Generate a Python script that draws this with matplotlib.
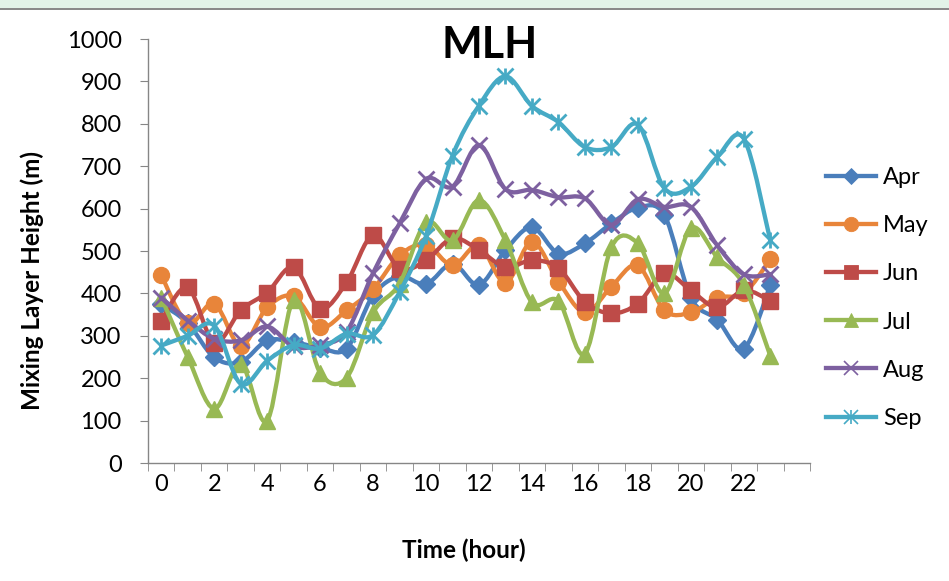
import matplotlib
matplotlib.use("Agg")
import matplotlib.pyplot as plt
from matplotlib.path import Path
from matplotlib.patches import PathPatch, Rectangle
from matplotlib.lines import Line2D
import numpy as np

hours = list(range(24))
xtick_labels = [str(h) for h in range(0, 23, 2)]
months = ["Apr", "May", "Jun", "Jul", "Aug", "Sep"]

apr = [375, 330, 249, 238, 289, 285, 272, 270, 395, 440, 422, 470, 420, 502, 556, 494, 518, 565, 602, 585, 390, 338, 270, 419]
may = [443, 330, 376, 277, 367, 393, 320, 360, 410, 490, 515, 466, 513, 425, 522, 428, 355, 416, 466, 360, 355, 390, 400, 480]
jun = [336, 414, 284, 360, 402, 462, 364, 426, 537, 458, 478, 530, 502, 462, 478, 460, 380, 353, 376, 447, 407, 367, 407, 383]
jul = [390, 250, 128, 234, 100, 385, 213, 201, 355, 423, 568, 525, 620, 525, 379, 382, 258, 509, 518, 400, 554, 485, 420, 253]
aug = [390, 336, 293, 289, 322, 275, 278, 310, 448, 565, 670, 652, 750, 646, 644, 627, 624, 562, 622, 604, 604, 513, 445, 445]
sep = [277, 300, 324, 187, 241, 278, 270, 305, 302, 403, 535, 725, 843, 912, 842, 804, 745, 745, 798, 648, 651, 722, 765, 525]

series = [apr, may, jun, jul, aug, sep]
colors = ["#4A7EBB", "#E8853A", "#BE4B48", "#98B954", "#7D60A0", "#46AAC5"]

plt.rcParams['font.family'] = ['Lato', 'DejaVu Sans']

fig = plt.figure(figsize=(9.49, 5.81), dpi=100)
fig.patches.append(Rectangle((0, 1 - 8/581), 1, 8/581, transform=fig.transFigure,
                             facecolor="#E2F3E8", edgecolor="none", zorder=0))
fig.patches.append(Rectangle((0, 1 - 10/581), 1, 2.5/581, transform=fig.transFigure,
                             facecolor="#8A8A8A", edgecolor="none", zorder=0))

ax = fig.add_axes([148/949, 1 - 463/581, (810 - 148)/949, (463 - 39)/581])


def smooth_path(xs, ys):
    pts = np.column_stack([xs, ys]).astype(float)
    n = len(pts)
    verts = [pts[0]]
    codes = [Path.MOVETO]
    for i in range(n - 1):
        p0 = pts[i - 1] if i > 0 else pts[i]
        p1 = pts[i]
        p2 = pts[i + 1]
        p3 = pts[i + 2] if i + 2 < n else pts[i + 1]
        c1 = p1 + (p2 - p0) / 6.0
        c2 = p2 - (p3 - p1) / 6.0
        verts += [c1, c2, p2]
        codes += [Path.CURVE4] * 3
    return Path(verts, codes)


markers = [
    dict(marker="D", ms=9),
    dict(marker="o", ms=11.5),
    dict(marker="s", ms=11),
    dict(marker="^", ms=11.5),
    dict(marker="x", ms=11, mew=2),
    dict(marker="x", ms=11, mew=2),
]

handles = []
for k, (vals, col, mk) in enumerate(zip(series, colors, markers)):
    z = 3 + k
    patch = PathPatch(smooth_path(hours, vals), facecolor="none", edgecolor=col,
                      lw=3.1, zorder=z, capstyle="round", joinstyle="round")
    ax.add_patch(patch)
    ax.plot(hours, vals, ls="none", color=col, mec=col, zorder=z, **mk)
    h = Line2D([], [], color=col, lw=3.1, mec=col,
               marker=mk["marker"], ms=mk["ms"] * 0.9, mew=mk.get("mew", 1) * 0.6)
    if months[k] == "Sep":
        ax.plot(hours, vals, ls="none", color=col, marker="|", ms=12, mew=2, zorder=z)
        h2 = Line2D([], [], ls="none", color=col, marker="|", ms=mk["ms"] * 0.95, mew=1.2)
        handles.append((h, h2))
    else:
        handles.append(h)

ax.set_xlim(-0.5, 24.5)
ax.set_ylim(0, 1000)
ax.set_yticks(range(0, 1001, 100))
ax.set_xticks(range(0, 23, 2))
ax.set_xticklabels(xtick_labels)
ax.set_xticks(np.arange(-0.5, 25, 1), minor=True)

for s in ["top", "right"]:
    ax.spines[s].set_visible(False)
for s in ["left", "bottom"]:
    ax.spines[s].set_color("#868686")
    ax.spines[s].set_linewidth(1.0)

ax.tick_params(axis="y", direction="out", length=6, color="#868686", labelsize=17, pad=13)
ax.tick_params(axis="x", which="major", length=0, labelsize=17, pad=8)
ax.tick_params(axis="x", which="minor", direction="out", length=6, color="#868686")

ax.set_ylabel("Mixing Layer Height (m)", fontsize=17.5, fontweight="bold")
ax.yaxis.set_label_coords(-104/662, 0.43)
ax.set_xlabel("Time (hour)", fontsize=17.5, fontweight="bold")
ax.xaxis.set_label_coords(0.477, -76/424)
fig.text(490/949, 1 - 45/581, "MLH", ha="center", va="center", fontsize=31, fontweight="bold")

fig.legend(handles, months, loc="center left", bbox_to_anchor=(805/949, 1 - 298/581),
           frameon=False, fontsize=17, labelspacing=1.15, handlelength=2.1,
           handletextpad=0.3)

fig.savefig("out.png", dpi=100)
